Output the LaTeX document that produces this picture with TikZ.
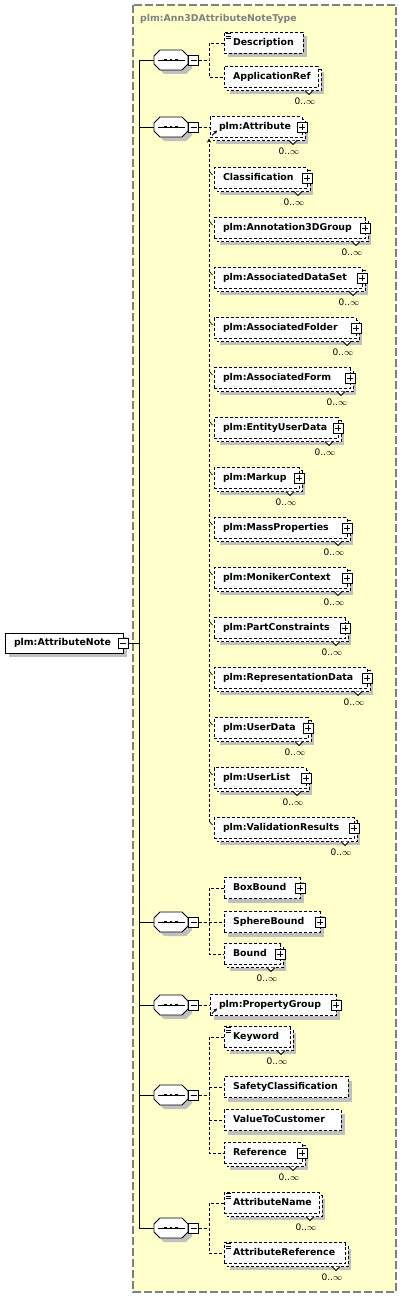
\documentclass[tikz,border=0pt]{standalone}
\usepackage{fontspec}
\setmainfont{DejaVu Sans}
\usetikzlibrary{arrows.meta,calc}
\definecolor{bgyellow}{RGB}{255,255,204}
\definecolor{shadowgray}{RGB}{192,192,192}
\definecolor{framegray}{RGB}{128,128,128}
\newcommand\myelfont{\fontsize{9.4}{11}\selectfont\bfseries}
\tikzset{
  wire/.style={draw=black, line width=0.9pt},
  conn/.style={draw=black, line width=0.9pt, dash pattern=on 3pt off 2pt},
  elem/.style={draw=black, line width=0.9pt, dash pattern=on 3pt off 2pt, fill=white, anchor=west,
    outer sep=0pt, inner xsep=9pt, inner ysep=0pt, minimum height=21pt,
    text height=7pt, text depth=2pt, font=\myelfont},
  rootbox/.style={elem, solid, minimum height=20pt},
  occ/.style={font=\fontsize{9}{10}\selectfont, inner sep=0pt},
  titletext/.style={font=\myelfont, text=framegray, inner sep=0pt, anchor=west},
  bgframe/.style={fill=bgyellow, draw=framegray, line width=1.1pt, dash pattern=on 8pt off 3pt},
  seqnode/.style={minimum width=34pt, minimum height=20pt, inner sep=0pt, outer sep=0pt},
  minusbox/.style={draw=black, solid, line width=0.9pt, fill=white, minimum size=10pt, inner sep=0pt, outer sep=0pt,
    path picture={\draw[line width=0.9pt] ([xshift=-3pt]path picture bounding box.center) -- ([xshift=3pt]path picture bounding box.center);}},
  plusbox/.style={draw=black, solid, line width=0.9pt, fill=white, minimum size=10pt, inner sep=0pt, outer sep=0pt,
    path picture={\draw[line width=0.9pt] ([xshift=-3pt]path picture bounding box.center) -- ([xshift=3pt]path picture bounding box.center);
                  \draw[line width=0.9pt] ([yshift=-3pt]path picture bounding box.center) -- ([yshift=3pt]path picture bounding box.center);}},
}
% single element: name, xl, xr, yc, text
\newcommand\SElem[5]{%
  \fill[shadowgray] (#2+4,#4-6.5) rectangle (#3+4,#4+14.5);
  \node[elem, minimum width={(#3-#2)*1pt}] (#1) at (#2,#4) {\makebox[\dimexpr #3pt-#2pt-18pt\relax][l]{#5}};
}
% multiple element: name, xl, xr, yc, text
\newcommand\MElem[5]{%
  \fill[shadowgray] (#2+6,#4-4.5) rectangle (#3+6,#4+16.5);
  \draw[elem] (#2+3,#4-7.5) rectangle (#3+3,#4+13.5);
  \node[elem, minimum width={(#3-#2)*1pt}] (#1) at (#2,#4) {\makebox[\dimexpr #3pt-#2pt-18pt\relax][l]{#5}};
  \draw[wire, fill=white] (#3-13,#4+13.5) -- (#3-9,#4+17.5) -- (#3-5,#4+13.5);
  \node[occ] (#1o) at (#3-13,#4+24.5) {0..\(\infty\)};
}
\newcommand\PlusB[1]{\node[plusbox] (#1p) at (#1.east) {};}
\newcommand\DocIcon[1]{%
  \draw[line width=0.8pt] ($(#1.north west)+(2,1.3)$) -- ++(5,0);
  \draw[line width=0.8pt] ($(#1.north west)+(2,3.5)$) -- ++(5,0);
  \draw[line width=0.8pt] ($(#1.north west)+(2,5.7)$) -- ++(5,0);
}
\newcommand\RefIcon[1]{%
  \draw[line width=0.8pt, -{Stealth[length=3.5pt,width=3.5pt]}] ($(#1.south west)+(2,-2)$) -- ++(5,-5);
}
\newcommand\Tick[1]{\draw[wire, line width=0.7pt] ($(#1.north west)+(-4.5,4)$) -- ($(#1.north west)+(-1.5,7.5)$);}
% sequence compositor: name, yc
\newcommand\Seq[2]{%
  \fill[shadowgray] (164,#2-6) -- (186,#2-6) -- (192,#2) -- (192,#2+8) -- (186,#2+14) -- (164,#2+14) -- (158,#2+8) -- (158,#2) -- cycle;
  \node[seqnode] (#1) at (171,#2) {};
  \draw[wire, fill=white] (160,#2-10) -- (182,#2-10) -- (188,#2-4) -- (188,#2+4) -- (182,#2+10) -- (160,#2+10) -- (154,#2+4) -- (154,#2-4) -- cycle;
  \draw[wire] (158,#2) -- (185,#2);
  \fill (164.3,#2-1.4) rectangle (167.1,#2+1.4);
  \fill (169.6,#2-1.4) rectangle (172.4,#2+1.4);
  \fill (174.9,#2-1.4) rectangle (177.7,#2+1.4);
  \node[minusbox] (#1m) at (193.5,#2) {};
}
\begin{document}
\begin{tikzpicture}[x=1pt,y=-1pt]
\useasboundingbox (0,0) rectangle (402,1298);
\draw[bgframe] (133,5) rectangle (396,1292);
\node[titletext] (title) at (140,19) {plm:Ann3DAttributeNoteType};

% root element
\fill[shadowgray] (9,637) rectangle (127,657);
\node[rootbox, minimum width=118pt] (root) at (5,643) {\makebox[100pt][l]{plm:AttributeNote}};
\node[minusbox] (rootm) at (root.east) {};

% trunk
\coordinate (ttop) at (139,60);
\coordinate (tbot) at (139,1228);
\draw[wire] (ttop) -- (tbot);
\draw[wire] (rootm.east) -- (rootm.east -| ttop);

% sequences
\Seq{s1}{60}
\Seq{s2}{127}
\Seq{s3}{922}
\Seq{s4}{1005}
\Seq{s5}{1095}
\Seq{s6}{1228}
\foreach \s in {s1,s2,s3,s4,s5,s6}{\draw[wire] (\s.west -| ttop) -- (\s.west);}

% sequence 1
\SElem{desc}{224}{303}{43}{Description}
\DocIcon{desc}
\MElem{appref}{224}{318}{77}{ApplicationRef}
\path (s1m.east) ++(10.5,0) coordinate (j1);
\draw[conn] (s1m.east) -- (j1);
\draw[conn] (desc.west) -| (j1) |- (appref.west);

% sequence 2 (substitution group)
\MElem{attr}{210}{302}{127}{plm:Attribute}
\PlusB{attr}
\RefIcon{attr}
\draw[conn] (s2m.east) -- (attr.west);
\MElem{classif}{214}{307}{178}{Classification}
\MElem{annot}{214}{365}{228}{plm:Annotation3DGroup}
\MElem{adset}{214}{362}{278}{plm:AssociatedDataSet}
\MElem{afolder}{214}{356}{328}{plm:AssociatedFolder}
\MElem{aform}{214}{350}{378}{plm:AssociatedForm}
\MElem{eud}{214}{338}{428}{plm:EntityUserData}
\MElem{markup}{214}{299}{478}{plm:Markup}
\MElem{massp}{214}{347}{528}{plm:MassProperties}
\MElem{moniker}{214}{347}{578}{plm:MonikerContext}
\MElem{partc}{214}{345}{628}{plm:PartConstraints}
\MElem{repd}{214}{367}{678}{plm:RepresentationData}
\MElem{userd}{214}{308}{728}{plm:UserData}
\MElem{userl}{214}{306}{778}{plm:UserList}
\MElem{valr}{214}{354}{828}{plm:ValidationResults}
\foreach \m in {classif,annot,adset,afolder,aform,eud,markup,massp,moniker,partc,repd,userd,userl,valr}{\PlusB{\m}\Tick{\m}}
\coordinate (vb) at (209,822);
\draw[conn, -{Stealth[length=4pt,width=4pt]}, shorten >=1pt] (vb) -- (vb |- attr.south);

% sequence 3
\SElem{boxb}{224}{300}{888}{BoxBound}
\SElem{sphere}{224}{320}{922}{SphereBound}
\MElem{bound}{224}{280}{954}{Bound}
\PlusB{boxb}\PlusB{sphere}\PlusB{bound}
\path (s3m.east) ++(10.5,0) coordinate (j3);
\draw[conn] (s3m.east) -- (sphere.west);
\draw[conn] (boxb.west) -| (j3) |- (bound.west);

% sequence 4
\SElem{propg}{210}{336}{1005}{plm:PropertyGroup}
\PlusB{propg}
\RefIcon{propg}
\draw[conn] (s4m.east) -- (propg.west);

% sequence 5
\MElem{keyw}{224}{290}{1037}{Keyword}
\DocIcon{keyw}
\SElem{safety}{224}{348}{1087}{SafetyClassification}
\SElem{valc}{224}{341}{1120}{ValueToCustomer}
\MElem{refr}{224}{302}{1153}{Reference}
\PlusB{refr}
\path (s5m.east) ++(10.5,0) coordinate (j5);
\draw[conn] (s5m.east) -- (j5);
\draw[conn] (keyw.west) -| (j5) |- (refr.west);
\draw[conn] (j5 |- safety.west) -- (safety.west);
\draw[conn] (j5 |- valc.west) -- (valc.west);

% sequence 6
\MElem{attrname}{224}{319}{1203}{AttributeName}
\DocIcon{attrname}
\MElem{attrref}{224}{345}{1253}{AttributeReference}
\DocIcon{attrref}
\path (s6m.east) ++(10.5,0) coordinate (j6);
\draw[conn] (s6m.east) -- (j6);
\draw[conn] (attrname.west) -| (j6) |- (attrref.west);
\end{tikzpicture}
\end{document}
